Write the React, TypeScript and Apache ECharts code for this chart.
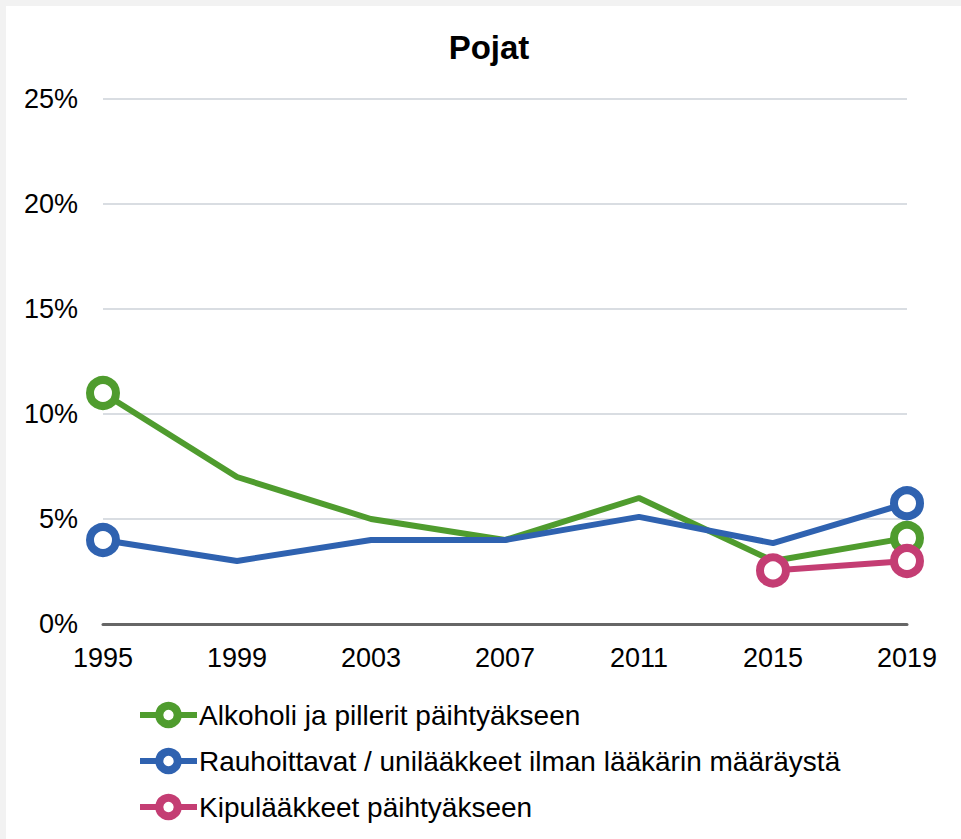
import React, { useEffect, useRef } from "react";
import * as echarts from "echarts";

const years = ["1995", "1999", "2003", "2007", "2011", "2015", "2019"];
const alkoholi = [11.0, 7.0, 5.0, 4.0, 6.0, 3.0, 4.1];
const rauhoittavat = [4.0, 3.0, 4.0, 4.0, 5.1, 3.85, 5.75];
const kipulaakkeet = [null, null, null, null, null, 2.55, 3.0];
const markedAlkoholi = [0, 6];
const markedRauhoittavat = [0, 6];
const markedKipu = [5, 6];
const yTicks = [0, 5, 10, 15, 20, 25];

const FONT = "Liberation Sans, Arial, sans-serif";

function mk(values: (number | null)[], marked: number[]) {
  return values.map((v, i) =>
    v === null ? null : marked.includes(i) ? { value: v } : { value: v, symbol: "none" }
  );
}

export default function App() {
  const ref = useRef<HTMLDivElement>(null);
  useEffect(() => {
    const chart = echarts.init(ref.current!, null, { renderer: "svg" });
    const series = [
      { name: "Alkoholi ja pillerit päihtyäkseen", color: "#4f9c2e", data: mk(alkoholi, markedAlkoholi) },
      { name: "Rauhoittavat / unilääkkeet ilman lääkärin määräystä", color: "#2f62b0", data: mk(rauhoittavat, markedRauhoittavat) },
      { name: "Kipulääkkeet päihtyäkseen", color: "#c43d73", data: mk(kipulaakkeet, markedKipu) },
    ];
    chart.setOption({
      animation: false,
      backgroundColor: "#ffffff",
      title: {
        text: "Pojat",
        left: 478,
        top: 20,
        textAlign: "center",
        textStyle: { fontFamily: FONT, fontSize: 33, fontWeight: "bold", color: "#000" },
      },
      grid: { left: 97, right: 54, top: 93, bottom: 215, containLabel: false },
      xAxis: {
        type: "category",
        data: years,
        boundaryGap: false,
        axisLine: { lineStyle: { color: "#666666", width: 3 } },
        axisTick: { show: false },
        axisLabel: { fontFamily: FONT, fontSize: 27, color: "#000", margin: 20 },
      },
      yAxis: {
        type: "value",
        min: yTicks[0],
        max: yTicks[yTicks.length - 1],
        interval: 5,
        axisLine: { show: false },
        axisTick: { show: false },
        splitLine: { lineStyle: { color: "#d9dde2", width: 2 } },
        axisLabel: { fontFamily: FONT, fontSize: 27, color: "#000", margin: 25, formatter: "{value}%" },
      },
      legend: {
        orient: "vertical",
        left: 126,
        top: 690,
        itemWidth: 57,
        itemHeight: 23,
        itemGap: 18,
        lineStyle: { width: 6 },
        itemStyle: { borderWidth: 8 },
        textStyle: { fontFamily: FONT, fontSize: 28, color: "#000", padding: [0, 0, 0, -3] },
        data: series.map((s) => s.name),
      },
      series: series.map((s) => ({
        name: s.name,
        type: "line",
        data: s.data,
        color: s.color,
        symbol: "circle",
        symbolSize: 26,
        showAllSymbol: true,
        lineStyle: { width: 6, color: s.color },
        itemStyle: { color: "#ffffff", borderColor: s.color, borderWidth: 8 },
        emphasis: { disabled: true },
      })),
    });
    return () => chart.dispose();
  }, []);
  return (
    <div style={{ position: "absolute", left: 0, top: 0, width: 961, height: 839, background: "#f2f2f2" }}>
      <div ref={ref} style={{ position: "absolute", left: 6, top: 6, width: 955, height: 833 }} />
    </div>
  );
}
